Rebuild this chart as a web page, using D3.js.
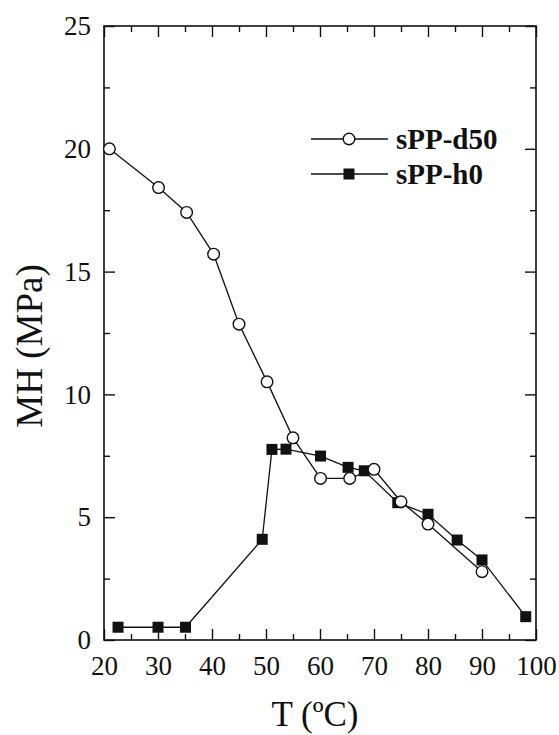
<!DOCTYPE html>
<html>
<head>
<meta charset="UTF-8">
<title>MH vs T</title>
<style>
body { margin: 0; background: #fff; }
</style>
</head>
<body>
<script src="https://cdn.jsdelivr.net/npm/d3@7"></script>
<script>
// data
var seriesNames = ["sPP-d50", "sPP-h0"];
var d50T  = [21, 30.1, 35.3, 40.3, 45, 50.2, 55, 60.1, 65.5, 70, 75, 80, 90];
var d50MH = [20.0, 18.42, 17.41, 15.71, 12.86, 10.51, 8.23, 6.58, 6.58, 6.95, 5.63, 4.72, 2.78];
var h0T   = [22.6, 30, 35.1, 49.3, 51.1, 53.7, 60.1, 65.2, 68.2, 74.4, 80, 85.4, 90, 98.1];
var h0MH  = [0.52, 0.52, 0.52, 4.10, 7.76, 7.77, 7.49, 7.03, 6.89, 5.59, 5.12, 4.07, 3.26, 0.95];
var xTicks = [20, 30, 40, 50, 60, 70, 80, 90, 100];
var yTicks = [0, 5, 10, 15, 20, 25];

var FONT = "Liberation Serif";
var width = 559, height = 735;
var margin = {top: 26, right: 23, bottom: 95, left: 104};
var w = width - margin.left - margin.right,
    h = height - margin.top - margin.bottom;

var svg = d3.select("body").append("svg")
  .attr("width", width)
  .attr("height", height);
var g = svg.append("g")
  .attr("transform", "translate(" + margin.left + "," + margin.top + ")");

var x = d3.scaleLinear().domain([20, 100]).range([0, w]);
var y = d3.scaleLinear().domain([0, 25]).range([h, 0]);

var minorX = d3.range(25, 100, 10);
var minorY = d3.range(2.5, 25, 5);

var styleAxis = function(sel) {
  sel.attr("font-family", FONT);
  sel.select(".domain").remove();
  sel.selectAll("line").attr("stroke", "#111").attr("stroke-width", 1.4);
  sel.selectAll("text")
    .attr("font-family", FONT)
    .attr("font-size", 27)
    .attr("fill", "#111");
};

// major ticks, pointing inward
g.append("g").attr("transform", "translate(0," + h + ")")
  .call(d3.axisBottom(x).tickValues(xTicks).tickSize(-11).tickPadding(16).tickFormat(d3.format("d")))
  .call(styleAxis);
g.append("g")
  .call(d3.axisLeft(y).tickValues(yTicks).tickSize(-11).tickPadding(13).tickFormat(d3.format("d")))
  .call(styleAxis);
g.append("g")
  .call(d3.axisTop(x).tickValues(xTicks).tickSize(-11).tickFormat(""))
  .call(styleAxis);
g.append("g").attr("transform", "translate(" + w + ",0)")
  .call(d3.axisRight(y).tickValues(yTicks).tickSize(-11).tickFormat(""))
  .call(styleAxis);

// minor ticks
g.append("g").attr("transform", "translate(0," + h + ")")
  .call(d3.axisBottom(x).tickValues(minorX).tickSize(-6).tickFormat(""))
  .call(styleAxis);
g.append("g")
  .call(d3.axisTop(x).tickValues(minorX).tickSize(-6).tickFormat(""))
  .call(styleAxis);
g.append("g")
  .call(d3.axisLeft(y).tickValues(minorY).tickSize(-6).tickFormat(""))
  .call(styleAxis);
g.append("g").attr("transform", "translate(" + w + ",0)")
  .call(d3.axisRight(y).tickValues(minorY).tickSize(-6).tickFormat(""))
  .call(styleAxis);

// frame
g.append("rect")
  .attr("width", w).attr("height", h)
  .attr("fill", "none").attr("stroke", "#111").attr("stroke-width", 1.6);

var line = d3.line()
  .x(function(d){ return x(d[0]); })
  .y(function(d){ return y(d[1]); });

var d50 = d3.zip(d50T, d50MH);
var h0 = d3.zip(h0T, h0MH);

g.append("path").datum(d50).attr("d", line)
  .attr("fill", "none").attr("stroke", "#111").attr("stroke-width", 1.3);
g.append("path").datum(h0).attr("d", line)
  .attr("fill", "none").attr("stroke", "#111").attr("stroke-width", 1.3);

g.selectAll(".sq").data(h0).enter().append("rect")
  .attr("x", function(d){ return x(d[0]) - 5.5; })
  .attr("y", function(d){ return y(d[1]) - 5.5; })
  .attr("width", 11).attr("height", 11)
  .attr("fill", "#111");

g.selectAll(".circ").data(d50).enter().append("circle")
  .attr("cx", function(d){ return x(d[0]); })
  .attr("cy", function(d){ return y(d[1]); })
  .attr("r", 5.8)
  .attr("fill", "#fff").attr("stroke", "#111").attr("stroke-width", 1.4);

// legend
var legend = g.append("g").attr("transform", "translate(" + (311 - margin.left) + "," + (139 - margin.top) + ")");
seriesNames.forEach(function(name, i) {
  var row = legend.append("g").attr("transform", "translate(0," + (i * 35) + ")");
  row.append("line").attr("x1", 0).attr("x2", 77)
    .attr("stroke", "#111").attr("stroke-width", 1.3);
  if (i === 0) {
    row.append("circle").attr("cx", 38).attr("r", 5.8)
      .attr("fill", "#fff").attr("stroke", "#111").attr("stroke-width", 1.4);
  } else {
    row.append("rect").attr("x", 32.5).attr("y", -5.5).attr("width", 11).attr("height", 11)
      .attr("fill", "#111");
  }
  row.append("text").attr("x", 85).attr("dy", "0.35em")
    .attr("font-family", FONT).attr("font-size", 29).attr("font-weight", "bold")
    .attr("fill", "#111")
    .text(name);
});

// axis titles
svg.append("text")
  .attr("x", margin.left + w / 2 - 5).attr("y", 726)
  .attr("text-anchor", "middle")
  .attr("font-family", FONT).attr("font-size", 35).attr("fill", "#111")
  .text("T (ºC)");
svg.append("text")
  .attr("transform", "translate(42,346) rotate(-90)")
  .attr("text-anchor", "middle")
  .attr("font-family", FONT).attr("font-size", 37).attr("fill", "#111")
  .text("MH (MPa)");
</script>
</body>
</html>
